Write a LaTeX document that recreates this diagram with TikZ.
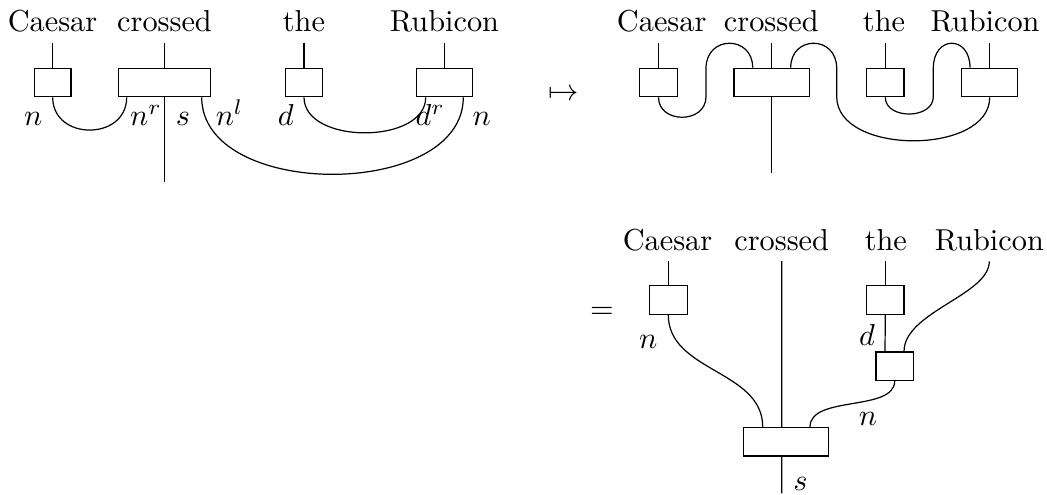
\documentclass[tikz,border=0pt]{standalone}
\usetikzlibrary{calc}
\newcommand\uu{0.33pt}
\tikzset{
  wire/.style={line width=0.4pt},
  wbox/.style={draw, fill=white, line width=0.4pt, inner sep=0pt, minimum height=28.4*\uu, minimum width=#1*\uu},
  word/.style={anchor=base},
  lab/.style={anchor=base, inner sep=0pt}
}
\begin{document}
\begin{tikzpicture}[x=0.33pt,y=-0.33pt]
\useasboundingbox (0,0) rectangle (1047,495);
% ---------------- Panel 1 ----------------
\node[word] (t1a) at (52.5,31.7) {Caesar};
\node[word] (t1b) at (164.5,31.7) {crossed};
\node[word] (t1c) at (304,31.7) {the};
\node[word] (t1d) at (444.5,31.7) {Rubicon};
\node[wbox=36.7] (b1a) at (52.7,82.5) {};
\node[wbox=92.4] (b1b) at (164.5,82.5) {};
\node[wbox=36.6] (b1c) at (304,82.5) {};
\node[wbox=55.6] (b1d) at (444.5,82.5) {};
\coordinate (e1) at (164.5,181.7);
\draw[wire] (t1a.south -| b1a.north) -- (b1a.north);
\draw[wire] (t1b.south -| b1b.north) -- (b1b.north);
\draw[wire] (t1c.south -| b1c.north) -- (b1c.north);
\draw[wire] (t1d.south -| b1d.north) -- (b1d.north);
\draw[wire] (b1b.south) -- (e1);
\draw[wire] (b1a.south) .. controls (52.7,141) and (126.7,141) .. ([xshift=-37.8*\uu]b1b.south);
\draw[wire] (b1c.south) .. controls (304,144.7) and (425.7,144.7) .. ([xshift=-18.8*\uu]b1d.south);
\draw[wire] ([xshift=37.2*\uu]b1b.south) .. controls (201.7,200) and (463.3,200) .. ([xshift=18.8*\uu]b1d.south);
\node[lab] (l1a) at (33.3,125) {$n$};
\node[lab] (l1b) at (146,125) {$n^r$};
\node[lab] (l1c) at (183,125) {$s$};
\node[lab] (l1d) at (229.5,125) {$n^l$};
\node[lab] (l1e) at (285.8,125) {$d$};
\node[lab] (l1f) at (430.3,125) {$d^r$};
\node[lab] (l1g) at (481.7,125) {$n$};
% mapsto
\node (mt) at (564,95) {$\mapsto$};
% ---------------- Panel 2 ----------------
\node[word] (t2a) at (661.7,31.7) {Caesar};
\node[word] (t2b) at (771.3,31.7) {crossed};
\node[word] (t2c) at (884,31.7) {the};
\node[word] (t2d) at (985,31.7) {Rubicon};
\node[wbox=38.4] (b2a) at (658.5,82.5) {};
\node[wbox=75.3] (b2b) at (771.7,82.5) {};
\node[wbox=37.3] (b2c) at (885.3,82.5) {};
\node[wbox=56] (b2d) at (989.7,82.5) {};
\coordinate (e2) at (771.7,172.7);
\draw[wire] (t2a.south -| b2a.north) -- (b2a.north);
\draw[wire] (t2b.south -| b2b.north) -- (b2b.north);
\draw[wire] (t2c.south -| b2c.north) -- (b2c.north);
\draw[wire] (t2d.south -| b2d.north) -- (b2d.north);
\draw[wire] (b2b.south) -- (e2);
\draw[wire] (b2a.south) .. controls (658.5,124) and (706,124) .. (706,96.7) -- (706,68.3)
  .. controls (706,35) and (752.7,35) .. ([xshift=-19*\uu]b2b.north);
\draw[wire] ([xshift=19*\uu]b2b.north) .. controls (790.7,35) and (836.7,35) .. (836.7,68.3) -- (836.7,96.7)
  .. controls (836.7,155.4) and (989.7,155.4) .. (b2d.south);
\draw[wire] (b2c.south) .. controls (885.3,119.7) and (933.3,119.7) .. (933.3,96.7) -- (933.3,68.3)
  .. controls (933.3,35) and (970,35) .. ([xshift=-19.7*\uu]b2d.north);
% ---------------- Panel 3 ----------------
\node (eq) at (602,312.5) {$=$};
\node[word] (t3a) at (667.5,250) {Caesar};
\node[word] (t3b) at (781.7,250) {crossed};
\node[word] (t3c) at (885.8,250) {the};
\node[word] (t3d) at (989.3,250) {Rubicon};
\node[wbox=38] (b3a) at (668.3,300) {};
\node[wbox=85.4] (b3b) at (786,441.7) {};
\node[wbox=37.3] (b3c) at (885.3,300) {};
\node[wbox=37.3] (b3d) at (894.7,366.3) {};
\coordinate (e3) at (781.7,493.3);
\draw[wire] (t3a.south -| b3a.north) -- (b3a.north);
\draw[wire] (t3b.south) -- ([xshift=-4.3*\uu]b3b.north);
\draw[wire] ([xshift=-4.3*\uu]b3b.south) -- (e3);
\draw[wire] (t3c.south -| b3c.north) -- (b3c.north);
\draw[wire] (b3c.south) -- ([xshift=-9.7*\uu]b3d.north);
\draw[wire] (t3d.south) .. controls (989.3,295) and (904,312) .. ([xshift=9.3*\uu]b3d.north);
\draw[wire] (b3a.south) .. controls (668.3,372) and (762.7,370) .. ([xshift=-23.3*\uu]b3b.north);
\draw[wire] (b3d.south) .. controls (894.3,412) and (810,395) .. ([xshift=24*\uu]b3b.north);
\node[lab] (l3a) at (648.3,348.3) {$n$};
\node[lab] (l3b) at (867,345) {$d$};
\node[lab] (l3c) at (868,425) {$n$};
\node[lab] (l3d) at (800.5,490) {$s$};
\end{tikzpicture}
\end{document}
